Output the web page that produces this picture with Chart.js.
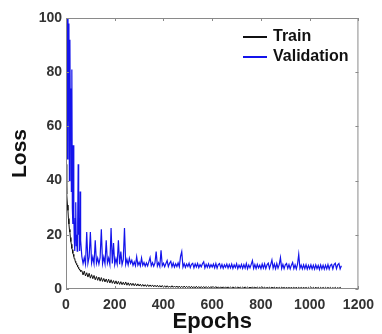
<!DOCTYPE html>
<html lang="en">
<head>
  <meta charset="UTF-8" />
  <title>Loss</title>
  <script src="https://cdn.jsdelivr.net/npm/chart.js"></script>
  <style>
    html, body { margin: 0; padding: 0; background: #fff; }
    #wrap { width: 382px; height: 334px; }
  </style>
</head>
<body>
  <div id="wrap"><canvas id="lossChart" width="382" height="334"></canvas></div>

  <script>
    // first 60 epochs, every 2 epochs
    const earlyEpochs = [0,2,4,6,8,10,12,14,16,18,20,22,24,26,28,30,32,34,36,38,40,42,44,46,48,50,52,54,56,58,60];
    const earlyValid = [108,72,110,48,104,62,98,40,92,55,74,36,81,30,24,53,28,18,14,26,32,16,20,14,24,46,20,26,14,36,18];
    const earlyTrain = [46,38,35,31,29,26,24,22,21,19,17.5,16.5,15,14.5,13.2,12.8,12,11.2,11,10.2,9.8,9.4,9,8.8,8.2,8,7.6,7.4,7,6.9,6.5];

    // rest of the run, every 5 epochs
    const epochs = [
      65,70,75,80,85,90,95,100,105,110,115,120,125,130,135,140,145,150,155,160,
      165,170,175,180,185,190,195,200,205,210,215,220,225,230,235,240,245,250,255,260,
      265,270,275,280,285,290,295,300,305,310,315,320,325,330,335,340,345,350,355,360,
      365,370,375,380,385,390,395,400,405,410,415,420,425,430,435,440,445,450,455,460,
      465,470,475,480,485,490,495,500,505,510,515,520,525,530,535,540,545,550,555,560,
      565,570,575,580,585,590,595,600,605,610,615,620,625,630,635,640,645,650,655,660,
      665,670,675,680,685,690,695,700,705,710,715,720,725,730,735,740,745,750,755,760,
      765,770,775,780,785,790,795,800,805,810,815,820,825,830,835,840,845,850,855,860,
      865,870,875,880,885,890,895,900,905,910,915,920,925,930,935,940,945,950,955,960,
      965,970,975,980,985,990,995,1000,1005,1010,1015,1020,1025,1030,1035,1040,1045,1050,1055,1060,
      1065,1070,1075,1080,1085,1090,1095,1100,1105,1110,1115,1120,1125,1130
    ];
    const validLoss = [
      12,9.4,11.6,9.2,21,9.5,11.8,21,9.6,11.8,9.3,18,9.5,11.4,9.2,11.6,22,9.4,11.8,9.3,
      18,9.6,11.4,9.1,22.5,9.4,17,9,11.2,9.2,18,9.1,13.8,9,10.8,22.5,9.1,10.9,8.9,11.4,
      9.5,10.6,8.7,10,8.6,11.9,8.8,9.9,8.5,11.4,8.7,9.8,8.4,9.6,8.5,10,11.6,8.6,9.7,8.4,
      9.6,13.8,8.5,9.7,8.3,14.3,8.6,9.5,8.2,9.4,10.5,8.3,9.5,10.2,8.2,9.6,8.1,9.3,8.3,9.6,
      8.2,12,13.8,8.1,9.4,8,9.2,8.3,9.5,7.9,9.1,9.5,7.8,9.3,8.1,9.4,7.9,9,8.2,9.3,
      10,7.8,9.1,8,9.3,7.9,9,8.1,9.2,7.8,9.4,7.7,9,9.4,7.8,9.1,7.6,8.9,8,9.2,
      7.7,9,7.8,9.2,7.6,8.9,7.9,9.3,7.5,8.8,7.8,9.1,7.6,9,7.7,9.4,7.5,8.9,7.8,9.1,
      10.5,7.6,9,7.5,9.1,7.8,8.8,7.5,9.2,7.7,9.3,7.5,8.9,9.5,7.6,9,10.7,7.7,9.2,7.5,
      9.4,7.7,9,11.6,7.6,9.1,7.5,8.9,9.4,7.6,9,7.4,8.8,9.8,7.5,8.9,7.4,9.1,12.8,7.6,
      8.8,7.4,8.9,7.5,9,7.3,8.7,7.5,8.9,7.4,8.8,7.3,8.9,7.5,8.7,7.2,8.9,7.4,8.8,7.3,
      8.8,7.4,9,7.3,8.7,9.1,7.4,9,9.5,7.5,8.9,9.4,7.4,8.6
    ];
    const trainLoss = [
      6.8,5.2,6.6,4.8,6.0,4.4,5.8,4.0,5.3,3.8,5.0,3.4,4.6,3.2,4.4,2.9,4.2,2.8,3.9,2.6,
      3.7,2.4,3.6,2.2,3.4,2.1,3.1,1.9,3.0,1.8,2.8,1.7,2.7,1.6,2.5,1.5,2.6,1.4,2.3,1.3,
      2.2,1.3,2.1,1.2,2.0,1.1,1.9,1.1,1.8,1.0,1.7,1.0,1.6,0.9,1.6,0.9,1.5,0.9,1.5,0.8,
      1.4,0.8,1.4,0.7,1.3,0.7,1.3,0.7,1.2,0.6,1.2,0.6,1.1,0.6,1.2,0.6,1.1,0.6,1.1,0.5,
      1.1,0.5,1.0,0.5,1.1,0.5,1.0,0.5,1.0,0.4,1.0,0.4,0.9,0.4,1.0,0.4,0.9,0.4,0.9,0.4,
      0.9,0.4,0.9,0.4,0.8,0.4,0.9,0.3,0.8,0.4,0.9,0.3,0.8,0.3,0.8,0.3,0.8,0.3,0.8,0.3,
      0.8,0.3,0.7,0.3,0.8,0.3,0.7,0.3,0.8,0.3,0.7,0.3,0.7,0.3,0.8,0.3,0.7,0.3,0.7,0.3,
      0.8,0.3,0.7,0.3,0.7,0.3,0.7,0.2,0.8,0.3,0.7,0.2,0.6,0.3,0.7,0.2,0.7,0.3,0.7,0.2,
      0.7,0.2,0.6,0.2,0.7,0.3,0.6,0.2,0.7,0.2,0.6,0.2,0.7,0.2,0.6,0.2,0.7,0.2,0.6,0.2,
      0.6,0.2,0.7,0.2,0.6,0.2,0.6,0.2,0.6,0.2,0.6,0.2,0.7,0.2,0.6,0.2,0.6,0.2,0.6,0.2,
      0.6,0.2,0.6,0.2,0.6,0.2,0.5,0.2,0.6,0.2,0.5,0.2,0.6,0.2
    ];

    const xTicks = [0, 200, 400, 600, 800, 1000, 1200];
    const yTicks = [0, 20, 40, 60, 80, 100];

    const allEpochs = earlyEpochs.concat(epochs);
    const toPoints = vals => vals.map((v, i) => ({ x: allEpochs[i], y: v }));

    const FONT = 'Arial, "Liberation Sans", sans-serif';

    // box round the plot, inward ticks on all four sides, legend in the corner
    const framePlugin = {
      id: 'frame',
      afterDraw(chart) {
        const { ctx, chartArea: a, scales: { x, y } } = chart;
        ctx.save();
        ctx.strokeStyle = '#8a8a8a';
        ctx.lineWidth = 1;
        ctx.strokeRect(a.left + 0.5, a.top + 0.5, a.right - a.left - 1, a.bottom - a.top - 1);
        ctx.beginPath();
        xTicks.forEach(v => {
          const px = Math.round(x.getPixelForValue(v)) + 0.5;
          ctx.moveTo(px, a.bottom); ctx.lineTo(px, a.bottom - 3);
          ctx.moveTo(px, a.top); ctx.lineTo(px, a.top + 3);
        });
        yTicks.forEach(v => {
          const py = Math.round(y.getPixelForValue(v)) + 0.5;
          ctx.moveTo(a.left, py); ctx.lineTo(a.left + 3, py);
          ctx.moveTo(a.right, py); ctx.lineTo(a.right - 3, py);
        });
        ctx.stroke();

        ctx.font = 'bold 16px ' + FONT;
        ctx.textBaseline = 'middle';
        chart.data.datasets.forEach((ds, i) => {
          const ly = a.top + 19 + i * 20;
          ctx.strokeStyle = ds.borderColor;
          ctx.lineWidth = 2;
          ctx.beginPath();
          ctx.moveTo(a.left + 177, ly);
          ctx.lineTo(a.left + 201, ly);
          ctx.stroke();
          ctx.fillStyle = '#111';
          ctx.fillText(ds.label, a.left + 207, ly);
        });
        ctx.restore();
      }
    };

    new Chart(document.getElementById('lossChart'), {
      type: 'line',
      data: {
        datasets: [
          { label: 'Train', data: toPoints(earlyTrain.concat(trainLoss)), borderColor: '#111111', borderWidth: 1 },
          { label: 'Validation', data: toPoints(earlyValid.concat(validLoss)), borderColor: 'rgb(20,20,235)', borderWidth: 1.2 }
        ]
      },
      options: {
        responsive: false,
        animation: false,
        elements: { point: { radius: 0 }, line: { tension: 0 } },
        layout: { padding: { top: 18, right: 19, left: 0, bottom: 0 } },
        plugins: { legend: { display: false }, tooltip: { enabled: false } },
        scales: {
          x: {
            type: 'linear', min: 0, max: 1200,
            afterFit: s => { s.height = 45; },
            afterBuildTicks: s => { s.ticks = xTicks.map(v => ({ value: v })); },
            grid: { display: false, drawTicks: false },
            border: { display: false },
            ticks: { padding: 8, color: '#333', callback: v => String(v),
                     font: { family: FONT, size: 14, weight: 'bold' } },
            title: { display: true, text: 'Epochs', color: '#111', padding: { top: 0, bottom: 1 },
                     font: { family: FONT, size: 22, weight: 'bold', lineHeight: 1 } }
          },
          y: {
            min: 0, max: 100,
            afterFit: s => { s.width = 66; },
            afterBuildTicks: s => { s.ticks = yTicks.map(v => ({ value: v })); },
            grid: { display: false, drawTicks: false },
            border: { display: false },
            ticks: { padding: 4, color: '#333', callback: v => String(v),
                     font: { family: FONT, size: 14, weight: 'bold' } },
            title: { display: true, text: 'Loss', color: '#111', padding: { top: 10, bottom: 0 },
                     font: { family: FONT, size: 21, weight: 'bold', lineHeight: 1 } }
          }
        }
      },
      plugins: [framePlugin]
    });
  </script>
</body>
</html>
